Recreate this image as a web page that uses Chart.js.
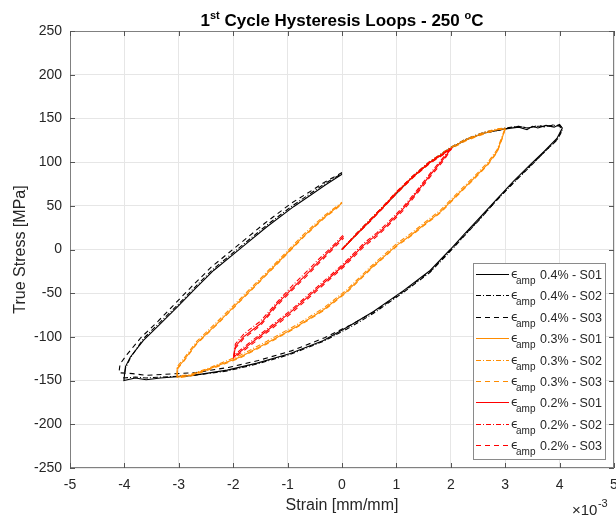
<!DOCTYPE html>
<html><head><meta charset="utf-8">
<script src="https://cdn.jsdelivr.net/npm/chart.js@4.4.1/dist/chart.umd.min.js"></script>
<style>html,body{margin:0;padding:0;background:#fff}#wrap{width:616px;height:520px;position:relative}</style>
</head><body><div id="wrap"><canvas id="c" width="616" height="520"></canvas></div>
<script>
// ---- Data (strain in 1e-3 mm/mm, stress in MPa) ----
const xTickValues = [-5,-4,-3,-2,-1,0,1,2,3,4,5];
const yTickValues = [-250,-200,-150,-100,-50,0,50,100,150,200,250];
const amplitudes = ['0.4%','0.3%','0.2%'];
const specimens = ['S01','S02','S03'];

// 0.4 % amplitude
const strain04 = [0,0.2,0.5,0.75,1.0,1.3,1.6,2.0,2.3,2.6,3.0,3.25,3.4,3.5,3.6,3.75,3.9,4.0,4.05,
 3.95,3.71,3.46,3.15,2.85,2.54,2.24,1.99,1.62,1.13,0.58,0.15,-0.34,-0.95,-1.56,-2.11,-2.73,-3.34,-3.6,-3.8,-4.01,
 -3.98,-3.89,-3.65,-3.34,-3.03,-2.67,-2.36,-1.87,-1.38,-0.89,-0.58,-0.3,0];
const stress04_S01 = [0,13,32,48,64,83,99,116,126,133,138,140,137,141,139,142,140,143,139,
 127,112,97,78,58,37,17,0,-24,-47,-71,-87,-104,-119,-130,-138,-144,-147,-149,-147,-150,
 -134,-123,-104,-85,-66,-43,-24,1,26,49,62,74,86];
const stress04_S02 = [0,14,33,49,65,84,100,117,127,134,139,141,139,140,141,141,142,141,136,
 125,111,95,76,57,35,15,-2,-26,-49,-73,-89,-105,-120,-131,-139,-144,-146,-147,-146,-147,
 -136,-124,-102,-83,-64,-41,-22,3,28,51,64,76,87];
const strain04_S03 = [0,0.2,0.5,0.75,1.0,1.3,1.6,2.0,2.3,2.6,3.0,3.25,3.4,3.5,3.6,3.75,3.9,4.0,4.05,
 3.97,3.73,3.48,3.17,2.87,2.56,2.26,2.01,1.64,1.15,0.6,0.17,-0.32,-0.93,-1.54,-2.09,-2.71,-3.32,-3.6,-3.85,-4.1,
 -4.08,-3.95,-3.7,-3.38,-3.07,-2.71,-2.4,-1.91,-1.42,-0.93,-0.62,-0.32,0];
const stress04_S03 = [0,13,32,48,65,83,99,116,126,133,138,141,139,140,142,140,143,142,139,
 127,112,97,78,58,37,17,0,-24,-47,-71,-86,-101,-116,-127,-135,-141,-143,-144,-142,-141,
 -131,-120,-101,-82,-62,-39,-20,5,30,53,65,77,88];

// 0.3 % amplitude
const strain03 = [0,0.2,0.5,0.75,1.0,1.3,1.6,2.0,2.3,2.6,2.85,3.0,
 2.94,2.85,2.67,2.42,2.11,1.81,1.5,1.26,1.01,0.52,0.09,-0.34,-0.83,-1.38,-1.87,-2.42,-2.79,-3.03,
 -3.03,-2.91,-2.67,-2.30,-1.93,-1.56,-1.07,-0.71,-0.34,0];
const stress03_S01 = [0,13,32,48,65,83,99,116,126,133,137,138,
 127,112,97,81,62,43,28,16,5,-22,-48,-69,-88,-107,-123,-136,-144,-146,
 -136,-127,-107,-85,-62,-39,-8,15,36,53];
const stress03_S02 = [0,14,33,49,66,84,100,117,127,134,138,139,
 129,114,99,83,64,45,30,18,7,-20,-46,-67,-86,-105,-121,-135,-143,-145,
 -134,-125,-105,-83,-60,-37,-6,17,38,54];
const stress03_S03 = [0,13,32,48,64,82,98,115,125,132,137,138,
 126,111,96,80,61,42,27,15,4,-23,-49,-70,-89,-108,-124,-137,-145,-147,
 -137,-128,-108,-86,-63,-40,-9,14,35,52];

// 0.2 % amplitude
const strain02 = [0,0.2,0.5,0.75,1.0,1.3,1.6,1.85,2.0,
 1.87,1.62,1.38,1.13,0.83,0.64,0.40,0.03,-0.22,-0.46,-0.95,-1.38,-1.81,-1.99,
 -1.96,-1.81,-1.5,-1.19,-0.89,-0.58,-0.46,-0.22,0.03];
const stress02_S01 = [0,13,32,48,65,83,99,109,115,
 104,85,66,47,28,17,5,-18,-32,-45,-72,-93,-114,-123,
 -111,-100,-85,-62,-43,-24,-16,-1,15];
const stress02_S02 = [0,14,33,49,66,84,100,110,116,
 106,87,68,49,30,19,7,-16,-30,-43,-70,-91,-112,-121,
 -108,-97,-82,-60,-40,-21,-13,1,17];
const stress02_S03 = [0,13,31,47,64,82,98,108,114,
 102,83,64,45,26,15,3,-20,-34,-47,-74,-95,-116,-124,
 -113,-102,-87,-64,-45,-26,-18,-3,13];

const colBlack = '#000000', colOrange = '#FF8C00', colRed = '#FF0000';
const dashS01 = [], dashS02 = [5,2,1,2], dashS03 = [5,4];

function pts(xs, ys){ return xs.map((x,i)=>({x:x, y:ys[i]})); }

const seriesDefs = [
  {xs:strain04, ys:stress04_S01, c:colBlack, d:dashS01, amp:0, sp:0, order:2},
  {xs:strain04, ys:stress04_S02, c:colBlack, d:dashS02, amp:0, sp:1, order:2},
  {xs:strain04_S03, ys:stress04_S03, c:colBlack, d:dashS03, amp:0, sp:2, order:2},
  {xs:strain03, ys:stress03_S01, c:colOrange, d:dashS01, amp:1, sp:0, order:1},
  {xs:strain03, ys:stress03_S02, c:colOrange, d:dashS02, amp:1, sp:1, order:1},
  {xs:strain03, ys:stress03_S03, c:colOrange, d:dashS03, amp:1, sp:2, order:1},
  {xs:strain02, ys:stress02_S01, c:colRed, d:dashS01, amp:2, sp:0, order:0},
  {xs:strain02, ys:stress02_S02, c:colRed, d:dashS02, amp:2, sp:1, order:0},
  {xs:strain02, ys:stress02_S03, c:colRed, d:dashS03, amp:2, sp:2, order:0}
];

const FONT = "'Liberation Sans', Arial, Helvetica, sans-serif";
const AXC = '#262626';

const datasets = seriesDefs.map(s => ({
  label: 'ϵamp ' + amplitudes[s.amp] + ' - ' + specimens[s.sp],
  data: pts(s.xs, s.ys),
  borderColor: s.c, borderDash: s.d, borderWidth: 1.1,
  showLine: true, pointRadius: 0, tension: 0, fill: false, order: s.order
}));

const titleParts = [
  {t:'1', size:17, dy:0}, {t:'st', size:11, dy:-7},
  {t:' Cycle Hysteresis Loops - 250 ', size:17, dy:0},
  {t:'o', size:11, dy:-7}, {t:'C', size:17, dy:0}
];

const decor = {
  id:'decor',
  afterDatasetsDraw(chart){
    const ctx = chart.ctx, a = chart.chartArea;
    const xs = chart.scales.x, ys = chart.scales.y;
    ctx.save();
    ctx.strokeStyle = '#808080'; ctx.lineWidth = 1;
    ctx.strokeRect(Math.round(a.left)+0.5, Math.round(a.top)+0.5, Math.round(a.right-a.left)-1, Math.round(a.bottom-a.top)-1);
    ctx.strokeStyle = '#555';
    ctx.beginPath();
    xTickValues.forEach(v=>{
      const p = Math.round(xs.getPixelForValue(v))+0.5;
      ctx.moveTo(p, a.bottom); ctx.lineTo(p, a.bottom-5);
      ctx.moveTo(p, a.top); ctx.lineTo(p, a.top+5);
    });
    yTickValues.forEach(v=>{
      const p = Math.round(ys.getPixelForValue(v))+0.5;
      ctx.moveTo(a.left, p); ctx.lineTo(a.left+5, p);
      ctx.moveTo(a.right, p); ctx.lineTo(a.right-5, p);
    });
    ctx.stroke();
    ctx.restore();
  },
  afterDraw(chart){
    const ctx = chart.ctx, a = chart.chartArea;
    ctx.save();
    // title
    ctx.fillStyle = '#000'; ctx.textBaseline = 'alphabetic'; ctx.textAlign = 'left';
    let total = 0;
    titleParts.forEach(p=>{ ctx.font = 'bold '+p.size+'px '+FONT; p.w = ctx.measureText(p.t).width; total += p.w; });
    let x = (a.left+a.right)/2 - total/2;
    titleParts.forEach(p=>{ ctx.font = 'bold '+p.size+'px '+FONT; ctx.fillText(p.t, x, 26+p.dy); x += p.w; });
    // exponent label
    ctx.fillStyle = AXC;
    ctx.font = '15px '+FONT;
    ctx.fillText('×10', 572, 515);
    const w10 = ctx.measureText('×10').width;
    ctx.font = '11px '+FONT;
    ctx.fillText('-3', 572+w10+0.5, 507);
    // legend
    const lx = 473, ly = 263, lw = 132, lh = 196;
    ctx.fillStyle = '#fff'; ctx.fillRect(lx, ly, lw, lh);
    ctx.strokeStyle = '#8a8a8a'; ctx.lineWidth = 1;
    ctx.strokeRect(lx+0.5, ly+0.5, lw, lh);
    seriesDefs.forEach((s,i)=>{
      const cy = Math.round(274 + i*21.4) + 0.5;
      ctx.strokeStyle = s.c; ctx.lineWidth = 1; ctx.setLineDash(s.d);
      ctx.beginPath(); ctx.moveTo(476, cy); ctx.lineTo(509, cy); ctx.stroke();
      ctx.setLineDash([]);
      ctx.fillStyle = AXC;
      ctx.font = "12px 'DejaVu Sans', sans-serif";
      ctx.fillText('ϵ', 511, cy+3.5);
      ctx.font = '10px '+FONT;
      ctx.fillText('amp', 516, cy+9);
      ctx.font = '12.5px '+FONT;
      ctx.fillText(amplitudes[s.amp]+' - '+specimens[s.sp], 540, cy+4.4);
    });
    ctx.restore();
  }
};

new Chart(document.getElementById('c'), {
  type:'scatter',
  data:{datasets},
  options:{
    responsive:false, animation:false, devicePixelRatio:1,
    layout:{padding:{top:31, right:2, left:0, bottom:0}},
    plugins:{legend:{display:false}, title:{display:false}, tooltip:{enabled:false}},
    scales:{
      x:{type:'linear', min:-5, max:5,
        afterFit(s){ s.height = 52; s.paddingLeft = 0; s.paddingRight = 0; },
        afterBuildTicks(s){ s.ticks = xTickValues.map(v=>({value:v})); },
        ticks:{font:{size:14, family:FONT}, color:AXC, padding:9, maxRotation:0, autoSkip:false},
        grid:{color:'#e6e6e6', drawTicks:false}, border:{display:false},
        title:{display:true, text:'Strain [mm/mm]', font:{size:16, family:FONT}, color:AXC, padding:{top:0, bottom:5}}
      },
      y:{type:'linear', min:-250, max:250,
        afterFit(s){ s.width = 70; s.paddingTop = 0; s.paddingBottom = 0; },
        afterBuildTicks(s){ s.ticks = yTickValues.map(v=>({value:v})); },
        ticks:{font:{size:14, family:FONT}, color:AXC, padding:8, autoSkip:false},
        grid:{color:'#e6e6e6', drawTicks:false}, border:{display:false},
        title:{display:true, text:'True Stress [MPa]', font:{size:16, family:FONT}, color:AXC, padding:{top:11, bottom:0}}
      }
    }
  },
  plugins:[decor]
});
</script>
</body></html>
